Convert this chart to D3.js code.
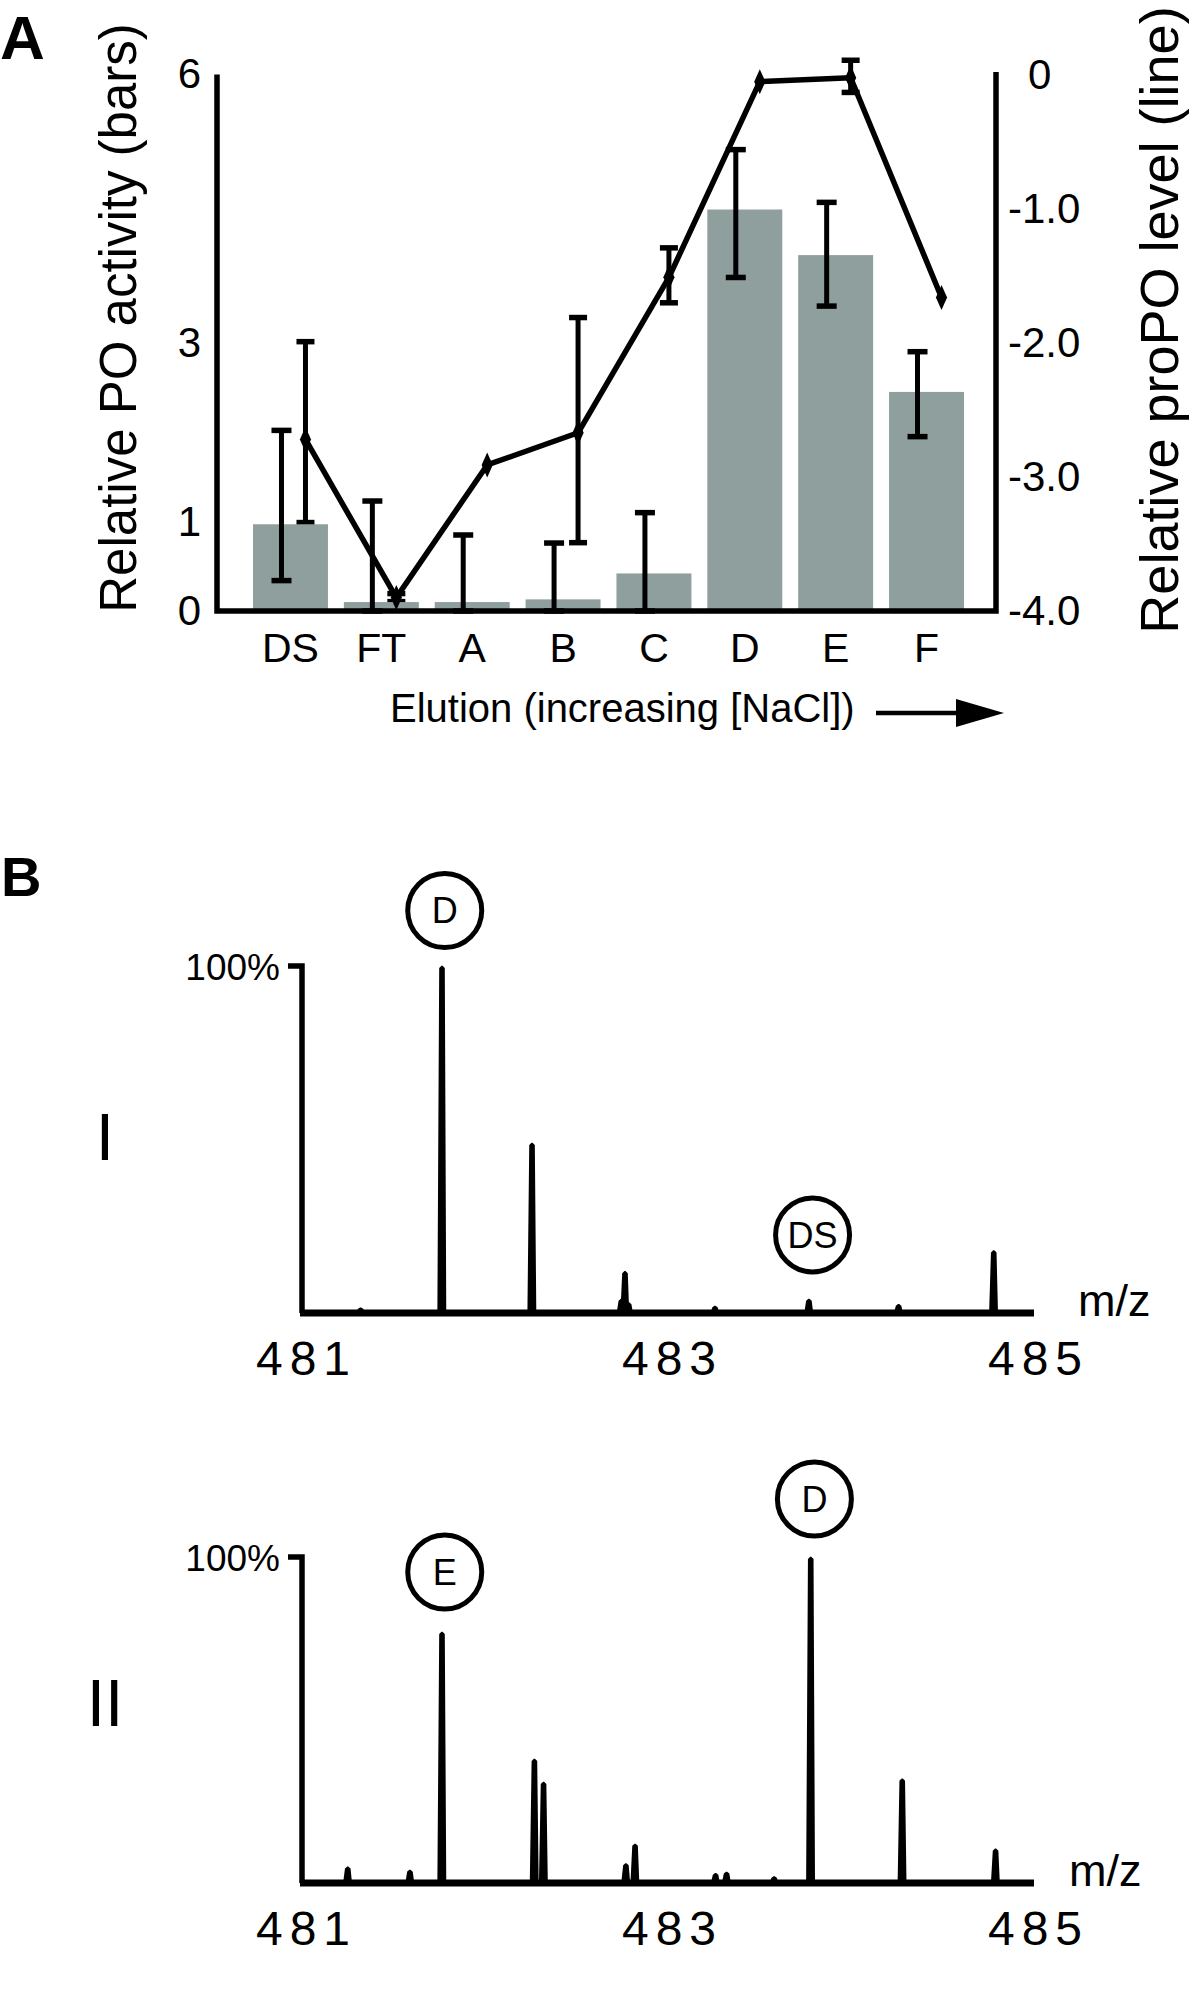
<!DOCTYPE html>
<html><head><meta charset="utf-8">
<script src="https://cdn.jsdelivr.net/npm/d3@7"></script>
<style>
body{margin:0;background:#fff;}
svg{display:block;font-family:"Liberation Sans",Arial,Helvetica,sans-serif;}
</style></head><body>
<svg id="c" width="1200" height="2000"></svg>
<script>
// ---------- Panel A data ----------
const categories = ["DS","FT","A","B","C","D","E","F"];
const poActivity = [0.97,0.10,0.10,0.13,0.42,4.49,3.98,2.45];
const poErrHigh  = [2.02,1.23,0.85,0.76,1.10,5.16,4.57,2.90];
const poErrLow   = [0.34,0,0,0,0,3.73,3.41,1.95];
const propoLevel   = [-2.72,-3.90,-2.91,-2.67,-1.51,-0.05,-0.02,-1.66];
const propoErrHigh = [-1.99,-3.87,null,-1.81,-1.29,null,0.11,null];
const propoErrLow  = [-3.34,-3.93,null,-3.49,-1.70,null,-0.13,null];
const leftTicks  = [0,1,3,6];
const rightTicks = [0,-1,-2,-3,-4];

// ---------- Panel B data ----------
const mzTicks = [481,483,485];
const spec1Mz  = [481.32,481.765,482.257,482.745,482.765,482.785,483.257,483.77,484.26,484.78];
const spec1Int = [1.5,100,49,4,12,3,2,4,2.5,18];
const spec2Mz  = [481.25,481.59,481.765,482.27,482.32,482.77,482.82,483.26,483.32,483.58,483.78,484.28,484.79];
const spec2Int = [5,4,77,38,31,6,12,3,3.4,2,100,32,10.5];
const annot1Labels = ["D","DS"];
const annot1Mz = [481.78,483.79];
const annot1Y  = [116,22.5];
const annot2Labels = ["E","D"];
const annot2Mz = [481.78,483.80];
const annot2Y  = [95.4,117.8];

const svg = d3.select("#c");
const barColor = "#8e9f9d";

// ================= Panel A =================
const x = d3.scaleBand().domain(categories).range([253,964]).paddingInner(0.175).paddingOuter(0);
const bw = x.bandwidth();
const yL = d3.scaleLinear().domain([0,6]).range([611,74.5]);
const yR = d3.scaleLinear().domain([-4,0]).range([611,75]);
const axL = 217, axR = 996;
const lineX = c => x(c) + bw*0.70;
const errX  = c => x(c) + bw*0.38;

const gA = svg.append("g");

function errBar(g, cx, yTop, yBot, cap){
  g.append("line").attr("x1",cx).attr("x2",cx).attr("y1",yTop).attr("y2",yBot)
    .attr("stroke","#000").attr("stroke-width",5);
  [yTop,yBot].forEach(yy=>{
    g.append("line").attr("x1",cx-cap).attr("x2",cx+cap).attr("y1",yy).attr("y2",yy)
      .attr("stroke","#000").attr("stroke-width",5.5);
  });
}

// proPO error bars (behind bars)
categories.forEach((c,i)=>{
  if(propoErrHigh[i]===null) return;
  errBar(gA, lineX(c), yR(propoErrHigh[i]), yR(propoErrLow[i]), 9);
});

// bars
gA.selectAll("rect.bar").data(categories).join("rect").attr("class","bar")
  .attr("x",c=>x(c)).attr("width",bw)
  .attr("y",(c,i)=>yL(poActivity[i])).attr("height",(c,i)=>yL(0)-yL(poActivity[i]))
  .attr("fill",barColor);

// bar error bars
categories.forEach((c,i)=>{
  errBar(gA, errX(c), yL(poErrHigh[i]), yL(poErrLow[i]), 10);
});

// proPO line
const line = d3.line().x((d,i)=>lineX(categories[i])).y(d=>yR(d));
gA.append("path").datum(propoLevel).attr("d",line)
  .attr("fill","none").attr("stroke","#000").attr("stroke-width",5.5).attr("stroke-linejoin","round");
gA.selectAll("path.mk").data(propoLevel).join("path").attr("class","mk")
  .attr("d",d3.symbol().type(d3.symbolDiamond).size(150))
  .attr("transform",(d,i)=>`translate(${lineX(categories[i])},${yR(d)}) scale(0.85,1.1)`)
  .attr("fill","#000");

// frame
gA.append("path")
  .attr("d",`M${axL},${yL(6)}V${yL(0)}H${axR}V${yR(0)-3}`)
  .attr("fill","none").attr("stroke","#000").attr("stroke-width",5.5).attr("stroke-linejoin","miter");

// left axis
const gl = gA.append("g").attr("transform",`translate(${axL},0)`)
  .call(d3.axisLeft(yL).tickValues(leftTicks).tickSize(0).tickPadding(16).tickFormat(d3.format("d")));
gl.select(".domain").remove();
gl.selectAll("text").attr("font-size",42).attr("font-family","Liberation Sans, Arial, sans-serif").attr("fill","#000");

// right axis
const gr = gA.append("g").attr("transform",`translate(${axR},0)`)
  .call(d3.axisRight(yR).tickValues(rightTicks).tickSize(0).tickPadding(12)
    .tickFormat(d=> d===0 ? "0" : d.toFixed(1)));
gr.select(".domain").remove();
gr.selectAll("text").attr("font-size",42).attr("font-family","Liberation Sans, Arial, sans-serif").attr("fill","#000")
  .attr("dx",d=> d===0 ? 20 : 0);

// bottom axis (category labels)
const gb = gA.append("g").attr("transform",`translate(0,${yL(0)})`)
  .call(d3.axisBottom(x).tickSize(0).tickPadding(22));
gb.select(".domain").remove();
gb.selectAll("text").attr("font-size",41).attr("font-family","Liberation Sans, Arial, sans-serif").attr("fill","#000");

// titles
gA.append("text").attr("transform","translate(136,318) rotate(-90)")
  .attr("text-anchor","middle").attr("font-size",51).text("Relative PO activity (bars)");
gA.append("text").attr("transform","translate(1178,320) rotate(-90)")
  .attr("text-anchor","middle").attr("font-size",54).text("Relative proPO level (line)");
gA.append("text").attr("x",390).attr("y",722).attr("font-size",40).text("Elution (increasing [NaCl])");
gA.append("line").attr("x1",876).attr("x2",962).attr("y1",713).attr("y2",713).attr("stroke","#000").attr("stroke-width",4.5);
gA.append("path").attr("d","M956,699L1004,713L956,727Z").attr("fill","#000");
gA.append("text").attr("x",0).attr("y",59).attr("font-size",62).attr("font-weight","bold").text("A");

// ================= Panel B =================
const xm = d3.scaleLinear().domain([481,485]).range([302,1034]);
svg.append("text").attr("x",1).attr("y",896).attr("font-size",56).attr("font-weight","bold").text("B");

function spectrum(y0, y100, mzs, ints, aLabels, aMz, aY, roman, romanY, mzLabelX){
  const y = d3.scaleLinear().domain([0,100]).range([y0,y100]);
  const g = svg.append("g");
  // peaks
  g.selectAll("path.pk").data(mzs).join("path").attr("class","pk")
    .attr("d",(m,i)=>{
      const h = ints[i];
      return `M${xm(m-0.013)},${y(0)}L${xm(m-0.003)},${y(h)+2}L${xm(m+0.003)},${y(h)+2}L${xm(m+0.011)},${y(0)}Z`;
    })
    .attr("fill","#000").attr("stroke","#000").attr("stroke-width",4.5).attr("stroke-linejoin","bevel");
  // axes
  g.append("path").attr("d",`M${xm(481)-14},${y(100)}H${xm(481)}V${y(0)}`)
    .attr("fill","none").attr("stroke","#000").attr("stroke-width",5.5);
  g.append("line").attr("x1",xm(481)-2).attr("x2",xm(485)).attr("y1",y(0)).attr("y2",y(0))
    .attr("stroke","#000").attr("stroke-width",7);
  // x tick labels
  const ax = g.append("g").attr("transform",`translate(0,${y(0)})`)
    .call(d3.axisBottom(xm).tickValues(mzTicks).tickSize(0).tickPadding(28).tickFormat(d3.format("d")));
  ax.select(".domain").remove();
  ax.selectAll("text").attr("font-size",48).attr("letter-spacing","7px").attr("dx",4)
    .attr("font-family","Liberation Sans, Arial, sans-serif").attr("fill","#000");
  // 100% label
  g.append("text").attr("x",xm(481)-22).attr("y",y(100)+14).attr("text-anchor","end")
    .attr("font-size",37).text("100%");
  // m/z label
  g.append("text").attr("x",mzLabelX).attr("y",y(0)+3).attr("font-size",45).text("m/z");
  // roman numeral
  g.append("text").attr("x",105).attr("y",romanY).attr("text-anchor","middle").attr("font-size",66).text(roman);
  // annotations
  const an = g.selectAll("g.an").data(aLabels).join("g").attr("class","an")
    .attr("transform",(d,i)=>`translate(${xm(aMz[i])},${y(aY[i])})`);
  an.append("circle").attr("r",37).attr("fill","#fff").attr("stroke","#000").attr("stroke-width",5);
  an.append("text").attr("text-anchor","middle").attr("dy","0.36em").attr("font-size",36).text(d=>d);
}

spectrum(1313, 966, spec1Mz, spec1Int, annot1Labels, annot1Mz, annot1Y, "I", 1160, 1078);
spectrum(1883, 1557, spec2Mz, spec2Int, annot2Labels, annot2Mz, annot2Y, "II", 1726, 1069);
</script>
</body></html>
